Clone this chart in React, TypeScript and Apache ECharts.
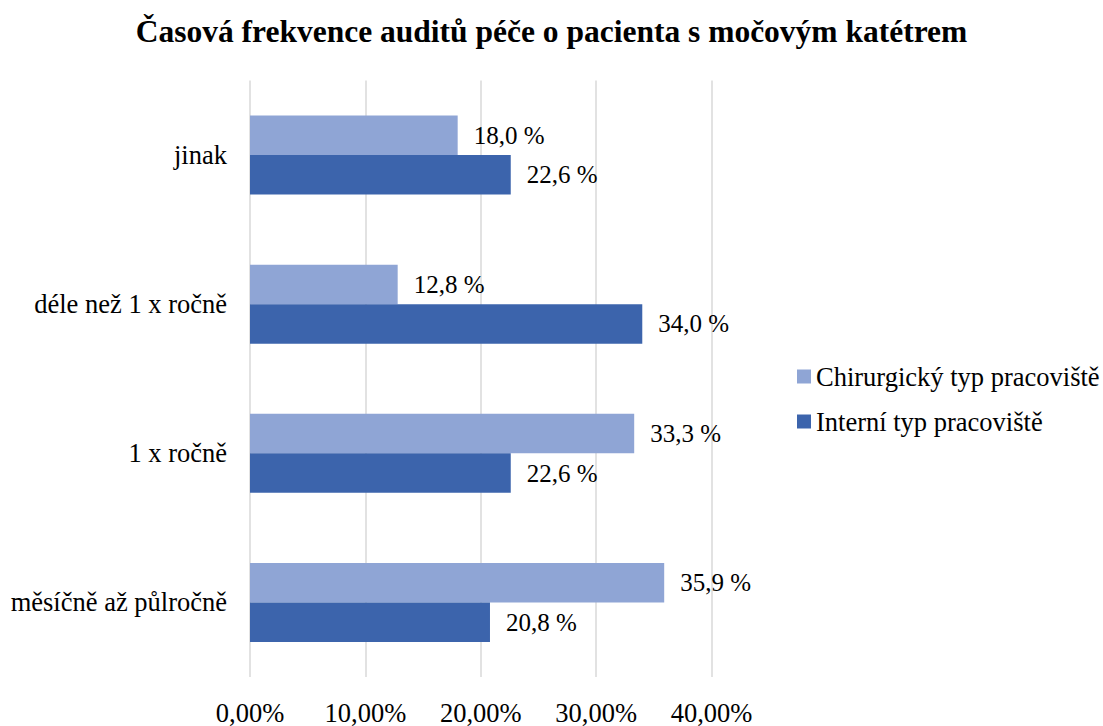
import React, { useEffect, useRef } from "react";
import * as echarts from "echarts";

const categories = ["měsíčně až půlročně", "1 x ročně", "déle než 1 x ročně", "jinak"];
const chirurgicky = [35.9, 33.3, 12.8, 18.0];
const interni = [20.8, 22.6, 34.0, 22.6];
const seriesNames = ["Chirurgický typ pracoviště", "Interní typ pracoviště"];
const titleText = "Časová frekvence auditů péče o pacienta s močovým katétrem";

const FONT = "Liberation Serif";

export default function App() {
  const ref = useRef<HTMLDivElement>(null);
  useEffect(() => {
    if (!ref.current) return;
    const chart = echarts.init(ref.current, null, { renderer: "svg" });
    const label = {
      show: true,
      position: "right",
      distance: 16,
      color: "#000",
      fontFamily: FONT,
      fontSize: 25,
      formatter: (p: any) => p.value.toFixed(1).replace(".", ",") + " %",
    };
    chart.setOption({
      animation: false,
      backgroundColor: "#fff",
      title: {
        text: titleText,
        left: "center",
        top: 10,
        textStyle: { fontFamily: FONT, fontSize: 31.5, fontWeight: "bold", color: "#000" },
      },
      legend: {
        orient: "vertical",
        left: 792,
        top: 358,
        itemWidth: 14,
        itemHeight: 14,
        itemGap: 18,
        icon: "rect",
        data: seriesNames,
        textStyle: { fontFamily: FONT, fontSize: 26.5, color: "#000" },
      },
      grid: { left: 250, right: 391.5, top: 80.5, bottom: 41.5, containLabel: false },
      xAxis: {
        type: "value",
        min: 0,
        max: 40,
        interval: 10,
        axisLine: { show: false },
        axisTick: { show: false },
        splitLine: { show: true, lineStyle: { color: "#D9D9D9", width: 1.5 } },
        axisLabel: {
          margin: 22,
          color: "#000",
          fontFamily: FONT,
          fontSize: 26.5,
          formatter: (v: number) => v.toFixed(2).replace(".", ",") + "%",
        },
      },
      yAxis: {
        type: "category",
        data: categories,
        axisLine: { show: false },
        axisTick: { show: false },
        axisLabel: { margin: 23, color: "#000", fontFamily: FONT, fontSize: 26.5 },
      },
      series: [
        {
          name: seriesNames[0],
          type: "bar",
          data: chirurgicky,
          barWidth: 39.5,
          barGap: "0%",
          itemStyle: { color: "#8FA5D5" },
          label,
        },
        {
          name: seriesNames[1],
          type: "bar",
          data: interni,
          barWidth: 39.5,
          barGap: "0%",
          itemStyle: { color: "#3C64AC" },
          label,
        },
      ],
    });
    return () => chart.dispose();
  }, []);
  return (
    <div
      ref={ref}
      style={{ position: "fixed", left: 0, top: 0, width: 1103, height: 726 }}
    />
  );
}
